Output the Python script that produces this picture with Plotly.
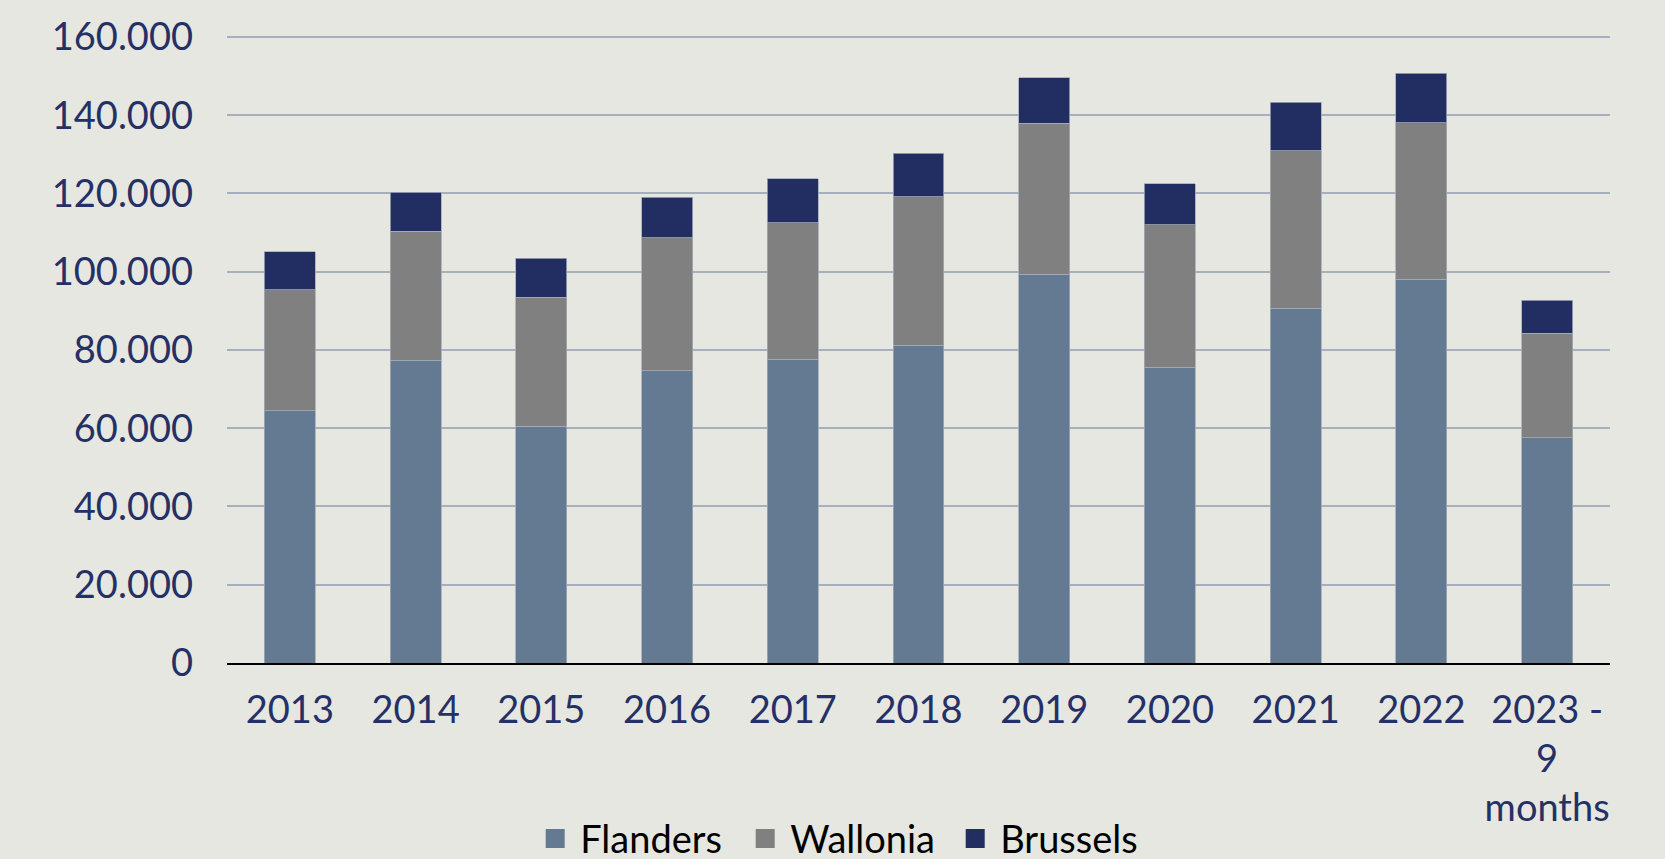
import plotly.graph_objects as go

categories = ["2013", "2014", "2015", "2016", "2017", "2018", "2019", "2020", "2021", "2022", "2023 -<br>9<br>months"]
flanders = [64500, 77400, 60500, 74700, 77600, 81200, 99300, 75600, 90700, 98100, 57600]
wallonia = [30900, 33000, 33000, 34000, 34900, 37900, 38700, 36400, 40200, 40000, 26700]
brussels = [9700, 9900, 9900, 10300, 11300, 11200, 11600, 10500, 12400, 12600, 8400]
y_ticks = [0, 20000, 40000, 60000, 80000, 100000, 120000, 140000, 160000]

series = [("Flanders", flanders, "#647992"), ("Wallonia", wallonia, "#808080"), ("Brussels", brussels, "#222D62")]

fig = go.Figure()
for name, vals, col in series:
    fig.add_trace(go.Bar(x=categories, y=vals, name=name, showlegend=False,
                         marker=dict(color=col, line=dict(color="#A3ABB8", width=0.8))))
for name, vals, col in series:
    fig.add_trace(go.Scatter(x=[None], y=[None], name=name, mode="markers",
                             marker=dict(symbol="square", size=20, color=col,
                                         line=dict(color=col, width=3))))

fig.update_layout(
    barmode="stack",
    bargap=0.595,
    width=1665, height=859,
    paper_bgcolor="#E5E7E0", plot_bgcolor="#E5E7E0",
    margin=dict(l=227, r=55, t=34.7, b=196, autoexpand=False),
    separators=",.",
    font=dict(family="Lato", size=38, color="#243066"),
    showlegend=True,
    legend=dict(orientation="h", x=0.447, xanchor="center", y=-0.28, yanchor="middle",
                font=dict(family="Lato", size=38, color="#000000"), traceorder="normal",
                itemwidth=40, entrywidth=155, bgcolor="rgba(0,0,0,0)"),
    xaxis=dict(showgrid=False, showline=True, linecolor="#000000", linewidth=2, ticks="",
               tickfont=dict(size=38, color="#243066"), ticklabelstandoff=12),
    yaxis=dict(range=[0, 160500], tickvals=y_ticks, tickformat=",d", showgrid=True,
               gridcolor="#A6B0BC", gridwidth=1.5, zeroline=False, showline=False, ticks="",
               tickfont=dict(size=38, color="#243066"), ticklabelstandoff=33),
)

fig.write_html("out.html", config={"displayModeBar": False},
               post_script="document.body.style.margin='0';document.body.style.overflow='hidden';document.body.style.background='#E5E7E0';")
